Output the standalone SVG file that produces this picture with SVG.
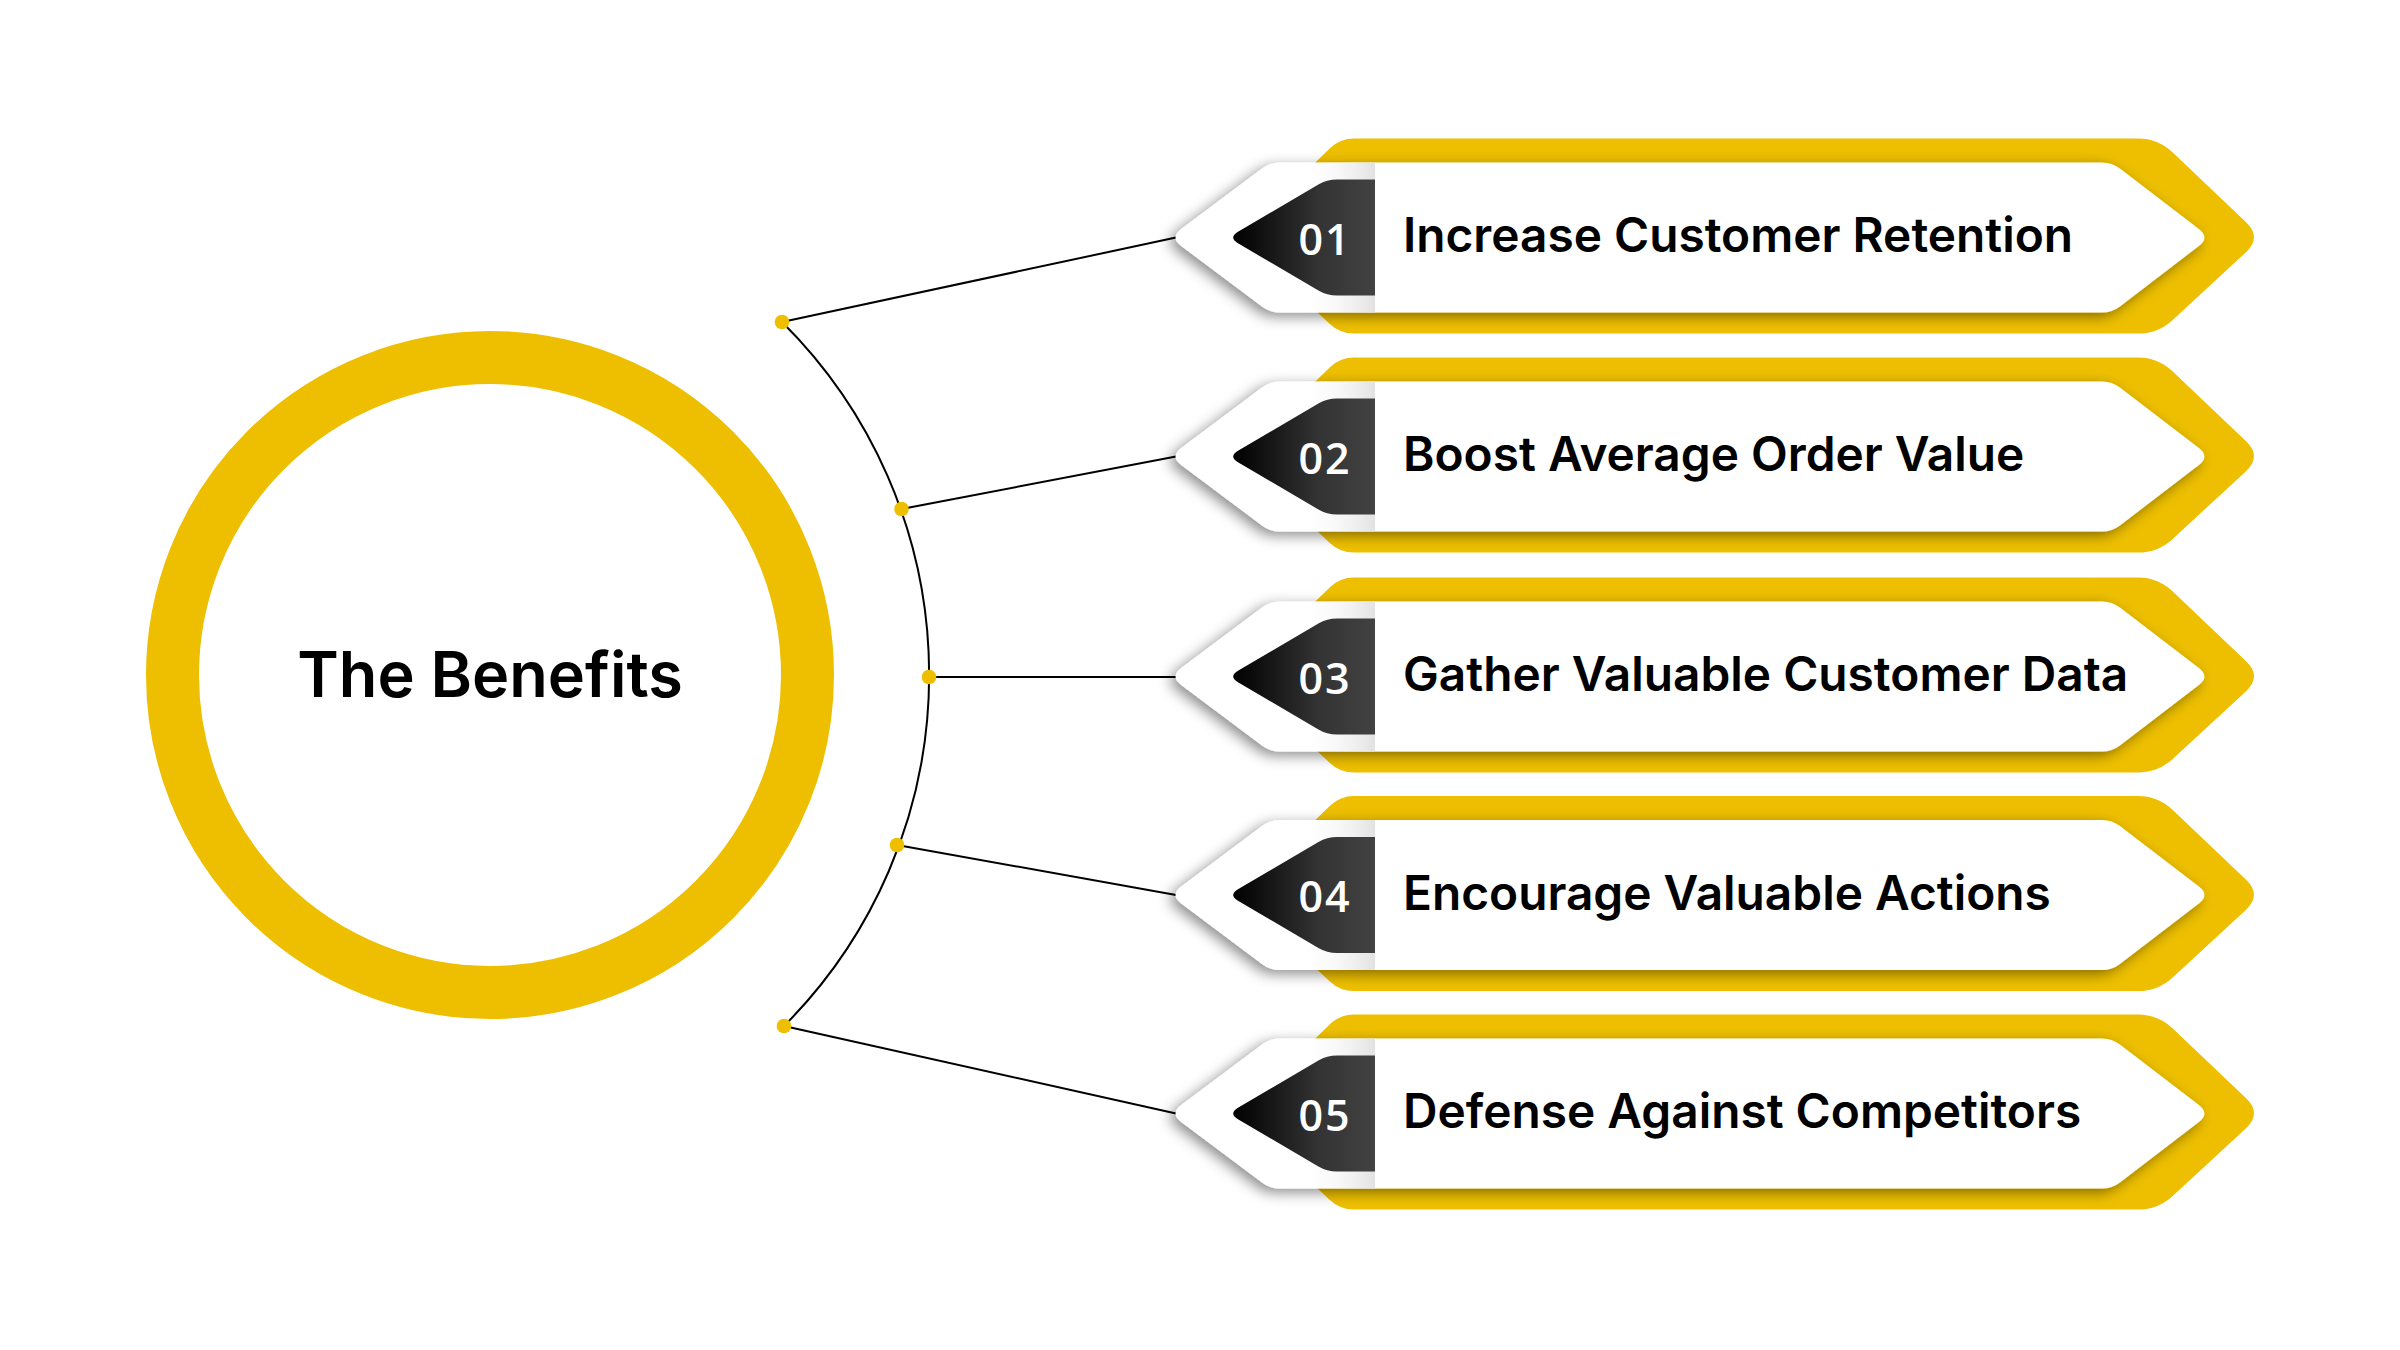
<svg xmlns="http://www.w3.org/2000/svg" xmlns:xlink="http://www.w3.org/1999/xlink" width="2400" height="1350" viewBox="0 0 2400 1350">
<style>
.ring{fill:none;stroke:#EDBF00;stroke-width:53}
.title{font-family:Inter,"Liberation Sans",sans-serif;font-weight:600;font-size:63px;fill:#000;text-anchor:middle}
.ybody{fill:#EDBF00}
.wbody{fill:#fff;filter:url(#sh)}
.tab{fill:url(#tabg)}
.fade{fill:url(#fadeg)}
.num{font-family:"Open Sans","Noto Sans",sans-serif;font-weight:600;font-size:43px;letter-spacing:2px;fill:#fff;text-anchor:middle}
.lbl{font-family:Inter,"Liberation Sans",sans-serif;font-weight:600;font-size:47.8px;fill:#000}
.conn{fill:none;stroke:#000;stroke-width:2}
.dot{fill:#EDBF00}
</style>
<defs>
<filter id="sh" x="-10%" y="-40%" width="120%" height="180%">
<feDropShadow dx="-5" dy="4" stdDeviation="7" flood-color="#000" flood-opacity="0.45"/>
</filter>
<linearGradient id="tabg" x1="0" y1="0" x2="1" y2="0">
<stop offset="0" stop-color="#000"/>
<stop offset="0.6" stop-color="#333"/>
<stop offset="1" stop-color="#424242"/>
</linearGradient>
<linearGradient id="fadeg" x1="0" y1="0" x2="1" y2="0">
<stop offset="0" stop-color="#fff" stop-opacity="0"/>
<stop offset="1" stop-color="#e2e2e2"/>
</linearGradient>
<path id="ypath" d="M1245.2,-7 L1329.950,-89.24 Q1340,-99 1354,-99 L2138,-99 Q2158,-99 2172.5,-85.2 L2246.1,-15.2 Q2262,0 2245.8,14.9 L2172.7,82.4 Q2158,96 2138,96 L1354,96 Q1340,96 1329.8,86.4 L1245.3,6.9 Q1238,0 1245.2,-7 Z"/>
<path id="wpath" d="M1181.2,-8.4 L1262,-69 Q1270,-75 1280,-75 L2102,-75 Q2112,-75 2119.9,-68.9 L2198.9,-8.5 Q2210,0 2198.9,8.5 L2119.9,68.9 Q2112,75 2102,75 L1280,75 Q1270,75 1262,69 L1181.2,8.4 Q1170,0 1181.2,-8.4 Z"/>
<path id="tpath" d="M1238.4,-6.1 L1318.4,-52.9 Q1327,-58 1337,-58 L1375,-58 L1375,58 L1337,58 Q1327,58 1318.4,52.9 L1238.4,6.1 Q1228,0 1238.4,-6.1 Z"/>
</defs>
<rect width="2400" height="1350" fill="#fff"/>

<g id="connectors">
<path class="conn" d="M782,322 A497,497 0 0 1 784,1026"/>
<line class="conn" x1="782" y1="322" x2="1176" y2="237.5"/>
<line class="conn" x1="901.5" y1="509" x2="1176" y2="456.5"/>
<line class="conn" x1="929" y1="677" x2="1176" y2="677"/>
<line class="conn" x1="897" y1="845" x2="1176" y2="895"/>
<line class="conn" x1="784" y1="1026" x2="1176" y2="1113.5"/>
<circle class="dot" cx="782" cy="322" r="7.3"/>
<circle class="dot" cx="901.5" cy="509" r="7.3"/>
<circle class="dot" cx="929" cy="677" r="7.3"/>
<circle class="dot" cx="897" cy="845" r="7.3"/>
<circle class="dot" cx="784" cy="1026" r="7.3"/>
</g>

<g id="center">
<circle class="ring" cx="490" cy="675" r="317.5"/>
<text class="title" x="490" y="697">The Benefits</text>
</g>

<g id="card-1" transform="translate(0,237.5)">
<use href="#ypath" class="ybody"/>
<use href="#wpath" class="wbody"/>
<rect class="fade" x="1300" y="-75" width="75" height="150"/>
<use href="#tpath" class="tab"/>
<text class="num" x="1325" y="17">01</text>
<text class="lbl" x="1403" y="14.5">Increase Customer Retention</text>
</g>

<g id="card-2" transform="translate(0,456.5)">
<use href="#ypath" class="ybody"/>
<use href="#wpath" class="wbody"/>
<rect class="fade" x="1300" y="-75" width="75" height="150"/>
<use href="#tpath" class="tab"/>
<text class="num" x="1325" y="17">02</text>
<text class="lbl" x="1403" y="14.5">Boost Average Order Value</text>
</g>

<g id="card-3" transform="translate(0,676.5)">
<use href="#ypath" class="ybody"/>
<use href="#wpath" class="wbody"/>
<rect class="fade" x="1300" y="-75" width="75" height="150"/>
<use href="#tpath" class="tab"/>
<text class="num" x="1325" y="17">03</text>
<text class="lbl" x="1403" y="14.5">Gather Valuable Customer Data</text>
</g>

<g id="card-4" transform="translate(0,895)">
<use href="#ypath" class="ybody"/>
<use href="#wpath" class="wbody"/>
<rect class="fade" x="1300" y="-75" width="75" height="150"/>
<use href="#tpath" class="tab"/>
<text class="num" x="1325" y="17">04</text>
<text class="lbl" x="1403" y="14.5">Encourage Valuable Actions</text>
</g>

<g id="card-5" transform="translate(0,1113.5)">
<use href="#ypath" class="ybody"/>
<use href="#wpath" class="wbody"/>
<rect class="fade" x="1300" y="-75" width="75" height="150"/>
<use href="#tpath" class="tab"/>
<text class="num" x="1325" y="17">05</text>
<text class="lbl" x="1403" y="14.5">Defense Against Competitors</text>
</g>
</svg>
